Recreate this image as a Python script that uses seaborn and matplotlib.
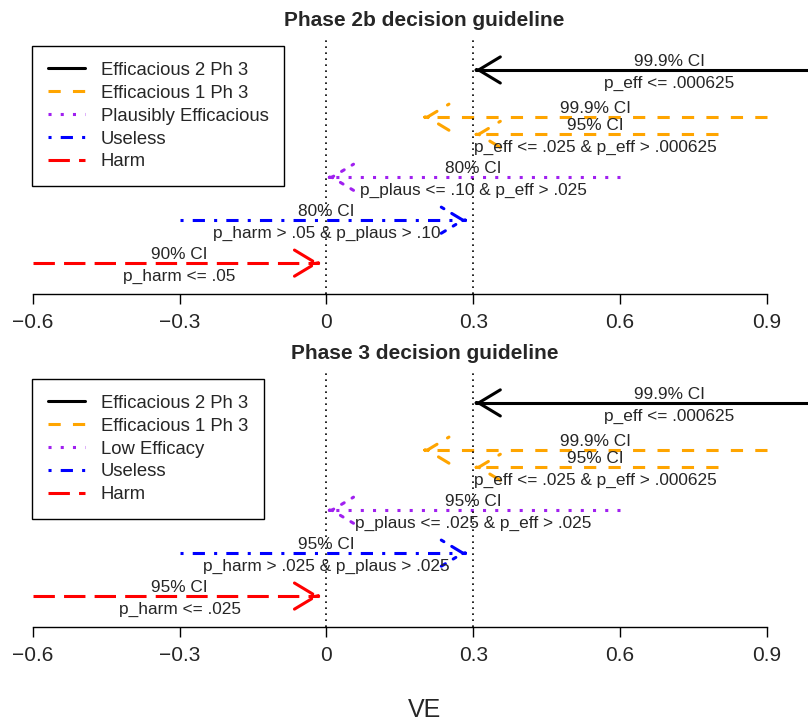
import matplotlib
matplotlib.use("Agg")
import matplotlib.pyplot as plt
from matplotlib.lines import Line2D
import numpy as np
import pandas as pd
import seaborn as sns

CATEGORIES_2B = ["Efficacious 2 Ph 3", "Efficacious 1 Ph 3", "Plausibly Efficacious", "Useless", "Harm"]
CATEGORIES_3 = ["Efficacious 2 Ph 3", "Efficacious 1 Ph 3", "Low Efficacy", "Useless", "Harm"]

# one entry per arrow: category index, row height, tail and tip on the VE axis
SEG_CAT = [0, 1, 1, 2, 3, 4]
SEG_Y = [5.5, 4.4, 4.0, 3.0, 2.0, 1.0]
SEG_TAIL = [1.1, 0.9, 0.8, 0.6, -0.3, -0.6]
SEG_TIP = [0.305, 0.2, 0.305, 0.005, 0.285, -0.015]
LABEL_X = [0.70, 0.55, 0.55, 0.30, 0.0, -0.30]

CI_2B = ["99.9% CI", "99.9% CI", "95% CI", "80% CI", "80% CI", "90% CI"]
RULE_2B = ["p_eff <= .000625", "", "p_eff <= .025 & p_eff > .000625",
           "p_plaus <= .10 & p_eff > .025", "p_harm > .05 & p_plaus > .10", "p_harm <= .05"]
CI_3 = ["99.9% CI", "99.9% CI", "95% CI", "95% CI", "95% CI", "95% CI"]
RULE_3 = ["p_eff <= .000625", "", "p_eff <= .025 & p_eff > .000625",
          "p_plaus <= .025 & p_eff > .025", "p_harm > .025 & p_plaus > .025", "p_harm <= .025"]

XTICKS = [-0.6, -0.3, 0.0, 0.3, 0.6, 0.9]
XTICK_LABELS = ["\u22120.6", "\u22120.3", "0", "0.3", "0.6", "0.9"]
THRESHOLDS = [0.0, 0.3]

COLORS = ["black", "orange", "#A020F0", "blue", "red"]
DASHES = ["", (4, 4), (1, 3), (1, 3, 4, 3), (7, 3)]
LW = 2.2


def line_style(d):
    return "-" if d == "" else (0, d)


def draw_panel(ax, categories, ci_labels, rule_labels, title):
    rows = []
    for i, (c, y, tail, tip) in enumerate(zip(SEG_CAT, SEG_Y, SEG_TAIL, SEG_TIP)):
        rows.append({"VE": tail, "row": y, "group": categories[c], "seg": i})
        rows.append({"VE": tip, "row": y, "group": categories[c], "seg": i})
    df = pd.DataFrame(rows)

    sns.lineplot(data=df, x="VE", y="row", hue="group", style="group", units="seg",
                 estimator=None, sort=False, hue_order=categories, style_order=categories,
                 palette=dict(zip(categories, COLORS)), dashes=dict(zip(categories, DASHES)),
                 linewidth=LW, legend=False, ax=ax)

    for c, y, tail, tip in zip(SEG_CAT, SEG_Y, SEG_TAIL, SEG_TIP):
        direction = np.sign(tail - tip)
        ax.annotate("", xy=(tip, y), xytext=(tip + direction * 0.002, y),
                    arrowprops=dict(arrowstyle="->,head_length=0.78,head_width=0.47",
                                    mutation_scale=20, color=COLORS[c], lw=LW,
                                    linestyle=line_style(DASHES[c]), shrinkA=0, shrinkB=0))

    for lx, y, ci, rule in zip(LABEL_X, SEG_Y, ci_labels, rule_labels):
        ax.text(lx, y + 0.205, ci, ha="center", va="center", fontsize=12.4)
        if rule:
            ax.text(lx, y - 0.315, rule, ha="center", va="center", fontsize=12.4)

    for t in THRESHOLDS:
        ax.axvline(t, color="black", lw=1.2, linestyle=(0, (1, 2.6)))

    handles = [Line2D([], [], color=col, lw=LW, linestyle=line_style(d)) for col, d in zip(COLORS, DASHES)]
    leg = ax.legend(handles, categories, loc="upper left", bbox_to_anchor=(0.0396, 0.9725),
                    borderaxespad=0, fontsize=13.3, frameon=True, fancybox=False,
                    edgecolor="black", framealpha=1, handlelength=2.0, handletextpad=0.86,
                    labelspacing=0.32, borderpad=0.85)
    leg.get_frame().set_linewidth(1.0)

    ax.set_xlim(-0.667, 0.984)
    ax.set_ylim(0.28, 6.22)
    ax.set_xticks(XTICKS)
    ax.set_xticklabels(XTICK_LABELS)
    ax.set_yticks([])
    ax.set_xlabel("")
    ax.set_ylabel("")
    for side in ["top", "right", "left"]:
        ax.spines[side].set_visible(False)
    ax.spines["bottom"].set_bounds(XTICKS[0], XTICKS[-1])
    ax.spines["bottom"].set_linewidth(1.0)
    ax.spines["bottom"].set_color("black")
    ax.tick_params(axis="x", direction="out", length=7, width=1.0, labelsize=15, pad=6.5,
                   color="black", bottom=True)
    ax.text(0.2, 1.072, title, transform=ax.get_xaxis_transform(), ha="center", va="center",
            fontsize=15, fontweight="bold")


def main():
    sns.set_style("white")
    plt.rcParams["font.family"] = ["Liberation Sans", "DejaVu Sans"]

    fig = plt.figure(figsize=(8.08, 7.26), dpi=100)
    ax_top = fig.add_axes([0, 0.5950, 1, 0.3512])
    ax_bot = fig.add_axes([0, 0.1364, 1, 0.3512])

    draw_panel(ax_top, CATEGORIES_2B, CI_2B, RULE_2B, "Phase 2b decision guideline")
    draw_panel(ax_bot, CATEGORIES_3, CI_3, RULE_3, "Phase 3 decision guideline")

    fig.text(0.525, 0.022, "VE", ha="center", va="center", fontsize=18)
    fig.savefig("out.png", dpi=100)


if __name__ == "__main__":
    main()
